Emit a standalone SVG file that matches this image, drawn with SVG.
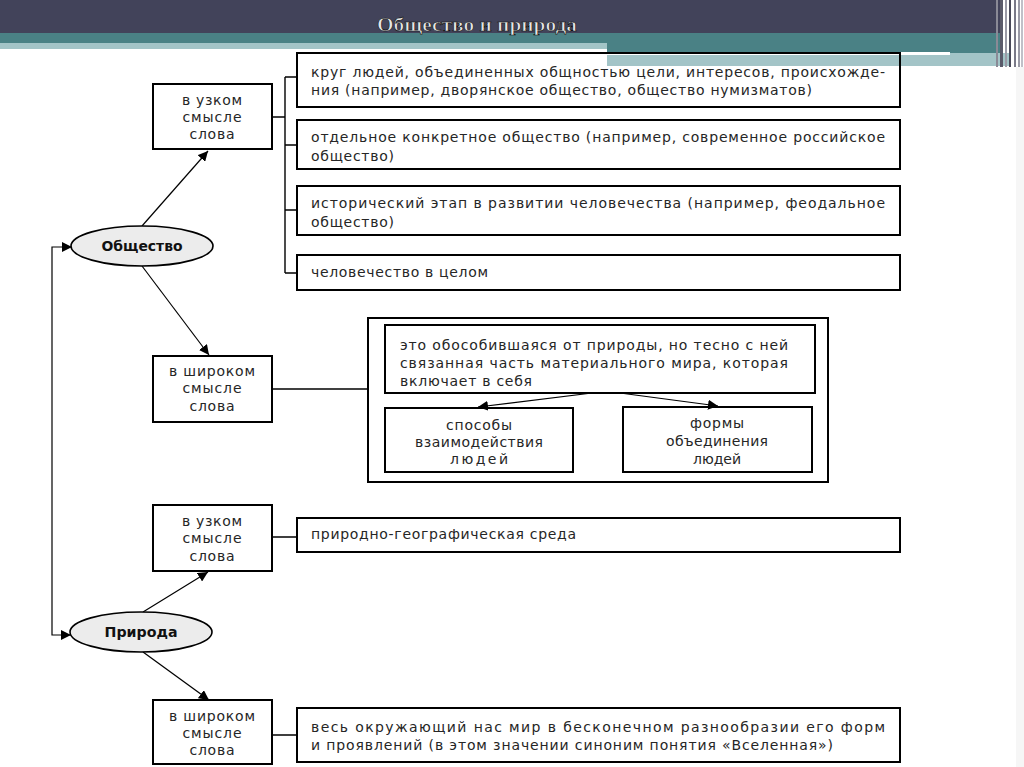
<svg xmlns="http://www.w3.org/2000/svg" width="1024" height="767" viewBox="0 0 1024 767">
<defs>
<marker id="arr" viewBox="0 0 10 10" refX="10" refY="5" markerWidth="10" markerHeight="10" markerUnits="userSpaceOnUse" orient="auto">
<path d="M0,0 L10,5 L0,10 z" fill="#000"/>
</marker>
<style>
.box{fill:none;stroke:#000;stroke-width:2}
.ell{fill:#ececec;stroke:#000;stroke-width:1.6}
.t{font-family:"DejaVu Sans","Liberation Sans",sans-serif;font-size:14px;fill:#262626}
.c{text-anchor:middle}
.b{font-family:"DejaVu Sans","Liberation Sans",sans-serif;font-size:14px;font-weight:bold;fill:#111;text-anchor:middle}
.ln{fill:none;stroke:#000;stroke-width:1.4}
.ar{fill:none;stroke:#000;stroke-width:1.2;marker-end:url(#arr)}
</style>
</defs>
<rect width="1024" height="767" fill="#fff"/>
<rect x="1016" y="67" width="8" height="700" fill="#f6f6f6"/>
<g id="header">
<rect x="0" y="0" width="1000" height="33" fill="#42435a"/>
<rect x="0" y="33" width="607" height="10" fill="#4a8185"/>
<rect x="0" y="43" width="607" height="6" fill="#a3c4c7"/>
<rect x="607" y="33" width="393" height="20" fill="#4a8185"/>
<rect x="607" y="53" width="403" height="13" fill="#a3c4c7"/>
<rect x="607" y="52" width="343" height="3" fill="#fff"/>
<rect x="996" y="0" width="2" height="67" fill="#8a8a96"/>
<rect x="1000" y="0" width="3" height="67" fill="#5a5a6a"/>
<rect x="1005" y="0" width="2" height="67" fill="#9a9aa6"/>
<rect x="1009" y="0" width="2" height="67" fill="#4a4a5a"/>
<rect x="1014" y="0" width="2" height="67" fill="#7a7a88"/>
<rect x="1018" y="0" width="2" height="67" fill="#9a9aa6"/>
<rect x="1021" y="0" width="2" height="67" fill="#c0c0c8"/>
<text x="477" y="31" text-anchor="middle" font-family="Liberation Serif, serif" font-size="18" font-weight="bold" fill="#e6e6e6" stroke="#111" stroke-width="0.6" textLength="200" lengthAdjust="spacingAndGlyphs">Общество и природа</text>
</g>
<g id="connectors">
<line class="ar" x1="142" y1="226" x2="208" y2="151"/>
<line class="ar" x1="142" y1="266" x2="209" y2="355"/>
<path class="ar" d="M52,441 V247 H72"/>
<path class="ar" d="M52,441 V635 H71"/>
<path class="ln" d="M272,117 H285 M285,77 V273 M285,77 H297 M285,145 H297 M285,210 H297 M285,273 H297"/>
<path class="ln" d="M272,389 H368"/>
<line class="ar" x1="592" y1="393" x2="478" y2="407"/>
<line class="ar" x1="620" y1="393" x2="718" y2="406"/>
<line class="ar" x1="143" y1="612" x2="208" y2="572"/>
<line class="ar" x1="143" y1="652" x2="209" y2="700"/>
<path class="ln" d="M272,537 H297 M272,735 H297"/>
</g>
<g id="obshchestvo">
<ellipse class="ell" cx="142" cy="246" rx="71" ry="20"/>
<text class="b" x="142" y="251" textLength="81" lengthAdjust="spacingAndGlyphs">Общество</text>
</g>
<g id="priroda">
<ellipse class="ell" cx="141" cy="632" rx="71" ry="20"/>
<text class="b" x="141" y="637" textLength="73" lengthAdjust="spacingAndGlyphs">Природа</text>
</g>
<g id="o-narrow">
<rect class="box" x="153" y="84" width="119" height="65"/>
<text class="t c" x="212" y="105" textLength="60">в узком</text>
<text class="t c" x="212" y="122" textLength="59">смысле</text>
<text class="t c" x="212" y="139" textLength="45">слова</text>
</g>
<g id="o-broad">
<rect class="box" x="153" y="356" width="119" height="66"/>
<text class="t c" x="212" y="376" textLength="86">в широком</text>
<text class="t c" x="212" y="393" textLength="59">смысле</text>
<text class="t c" x="212" y="411" textLength="45">слова</text>
</g>
<g id="p-narrow">
<rect class="box" x="153" y="505" width="119" height="66"/>
<text class="t c" x="212" y="526" textLength="60">в узком</text>
<text class="t c" x="212" y="543" textLength="59">смысле</text>
<text class="t c" x="212" y="561" textLength="45">слова</text>
</g>
<g id="p-broad">
<rect class="box" x="153" y="700" width="119" height="64"/>
<text class="t c" x="212" y="721" textLength="86">в широком</text>
<text class="t c" x="212" y="738" textLength="59">смысле</text>
<text class="t c" x="212" y="755" textLength="45">слова</text>
</g>
<g id="def1">
<rect class="box" x="297" y="53" width="603" height="54"/>
<text class="t" x="311" y="77" textLength="574">круг людей, объединенных общностью цели, интересов, происхожде-</text>
<text class="t" x="311" y="95" textLength="501">ния (например, дворянское общество, общество нумизматов)</text>
</g>
<g id="def2">
<rect class="box" x="297" y="120" width="603" height="49"/>
<text class="t" x="311" y="142" textLength="574">отдельное конкретное общество (например, современное российское</text>
<text class="t" x="311" y="161" textLength="83">общество)</text>
</g>
<g id="def3">
<rect class="box" x="297" y="186" width="603" height="49"/>
<text class="t" x="311" y="208" textLength="574">исторический этап в развитии человечества (например, феодальное</text>
<text class="t" x="311" y="227" textLength="83">общество)</text>
</g>
<g id="def4">
<rect class="box" x="297" y="255" width="603" height="35"/>
<text class="t" x="311" y="277" textLength="177">человечество в целом</text>
</g>
<g id="broad-society">
<rect class="box" x="368" y="318" width="460" height="164"/>
</g>
<g id="broad-def">
<rect class="box" x="385" y="325" width="430" height="68"/>
<text class="t" x="400" y="350" textLength="388">это обособившаяся от природы, но тесно с ней</text>
<text class="t" x="400" y="368" textLength="388">связанная часть материального мира, которая</text>
<text class="t" x="400" y="386" textLength="132">включает в себя</text>
</g>
<g id="ways">
<rect class="box" x="385" y="408" width="188" height="64"/>
<text class="t c" x="479" y="430" textLength="66">способы</text>
<text class="t c" x="479" y="447" textLength="128">взаимодействия</text>
<text class="t c" x="479" y="464" textLength="58">людей</text>
</g>
<g id="forms">
<rect class="box" x="623" y="407" width="189" height="65"/>
<text class="t c" x="717" y="428" textLength="54">формы</text>
<text class="t c" x="717" y="446" textLength="102">объединения</text>
<text class="t c" x="717" y="464" textLength="48">людей</text>
</g>
<g id="def5">
<rect class="box" x="297" y="518" width="603" height="34"/>
<text class="t" x="311" y="539" textLength="265">природно-географическая среда</text>
</g>
<g id="def6">
<rect class="box" x="297" y="708" width="603" height="54"/>
<text class="t" x="311" y="732" textLength="574">весь окружающий нас мир в бесконечном разнообразии его форм</text>
<text class="t" x="311" y="750" textLength="522">и проявлений (в этом значении синоним понятия «Вселенная»)</text>
</g>
</svg>
